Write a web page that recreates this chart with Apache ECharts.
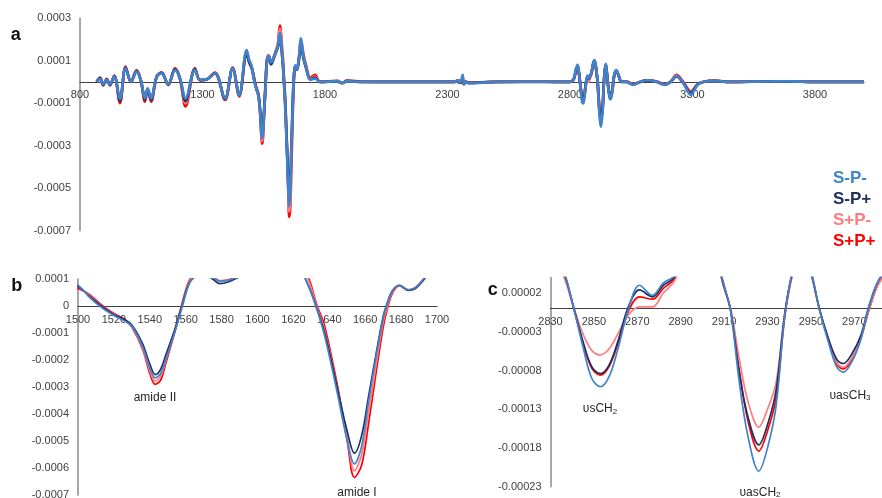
<!DOCTYPE html>
<html><head><meta charset="utf-8">
<script src="https://cdn.jsdelivr.net/npm/echarts@6/dist/echarts.min.js"></script>
<style>html,body{margin:0;padding:0;background:#fff}#c{width:882px;height:498px}</style>
</head><body><div id="c"></div>
<script>
// Wavenumbers (cm-1) shared by all series
const wavenumber = [
868,882,895,909,922,940,963,986,1008,1031,1049,1065,1076,1090,1113,1133,1160,1188,1208,1231,1269,1290,1317,1351,1392,1423,1450,1480,
1490,1500,1506,1513,1520,1526,1530,1536,1540,1543,1546,1549,1554,1558,1562,1566,1570,1575,1579,1584,1590,1600,1608,1616,1624,1629,1633,1637,1641,1645,1650,1654,1658,1662,1666,1670,1672,1675,1679,1684,1688,1693,1702,1712,1722,1740,1759,1780,
1850,1870,1890,1950,2100,2300,2330,2340,2348,2356,2362,2367,2373,2385,2500,2700,2790,
2800,2815,2824,2831,2836,2841,2845,2849,2853,2857,2861,2866,2871,2877,2882,2887,2895,2900,2906,2910,2913,2917,2921,2926,2930,2934,2938,2942,2946,2950,2954,2958,2962,2965,2969,2973,2977,2982,2989,3000,3010,
3030,3058,3085,3115,3150,3188,3210,3235,3262,3293,3320,3343,3390,3450,3600,3700,3800,3900,4000];

// Second-derivative values, in units of 1e-5
const S_Pminus = [
0,1.5,-1.0,1.0,-1.2,2.5,-8.0,6.4,0.2,4.9,0.5,-7.7,-3.0,-7.7,2.5,4.1,-1.1,5.6,1.7,-7.7,5.6,1.0,1.2,4.1,-7.7,6.4,-6.1,15.0,
10.5,7.7,3.5,-0.5,-3.5,-5.6,-7.5,-15,-23,-26.6,-25,-19.5,-9.5,-0.5,8.3,11.5,12.3,10.8,9.2,9.6,11.2,14.3,17,23,14,6.5,-1,-10,-21.5,-34,-50,-58.5,-52,-35,-19,-4.5,0.5,5.5,7.7,6.0,6.8,10.5,20.5,12,7.2,1.0,1.6,0,
0.4,-0.5,0.4,0,0.1,0,0,0.8,-0.3,0.8,3.3,-1.2,0.3,-0.6,0,0.1,0,
0,1.5,6,8.0,5.0,-0.3,-5.0,-9.0,-10.1,-8.8,-5.3,0,3.0,1.7,3.3,4.2,9,10.3,7,3.0,-0.3,-9.5,-16.5,-21.0,-18,-12.5,-0.8,5.5,8.5,5.0,-0.2,-4.3,-7.6,-8.2,-6.8,-4.0,0.5,4,5.6,2.5,0,
0,-1.4,0,0.8,0.2,-1.4,0,2.8,-0.5,-6.0,-1.5,0,0.5,0,0.2,0.3,0,0.1,0];
const S_Pplus = [
0,1.8,-1.5,1.2,-1.5,2.8,-9.0,6.8,0.0,5.2,0.3,-8.5,-3.2,-8.5,2.5,4.3,-1.2,6.0,1.6,-9.0,6.0,0.9,1.2,4.2,-8.0,6.5,-6.3,13.0,
9.5,7.2,3.8,0,-3.2,-5.0,-7.0,-14,-21.5,-25.4,-23.5,-18,-8.5,0.2,8.5,11.2,11.8,10,8.3,9.0,10.8,14,16.5,21,13.5,6.5,-0.8,-9,-20,-32,-46.5,-54.5,-48,-33,-18,-4,0.5,5.5,7.6,5.8,6.5,10,17,11,6.8,1.2,2.0,0,
0.3,-0.6,0.5,0,0,0,0,0.6,-0.4,0.5,1.5,-0.8,0.2,-0.4,0,0,0,
0,1.3,5.5,7.5,4.8,-0.2,-4.3,-7.5,-8.4,-7.3,-4.3,0.3,2.4,1.5,3.0,4.0,8.8,10,6.8,2.8,-0.2,-8.3,-14,-17.6,-15,-10.5,-0.6,5.3,8.3,4.8,-0.1,-3.8,-6.6,-7.1,-5.8,-3.5,0.5,4,5.4,2.4,0,
0,-1.2,0,0.7,0.2,-1.2,0,2.6,-0.4,-5.2,-1.3,0,0.5,0,0.2,0.2,0,0,0];
const Splus_Pminus = [
0,1.7,-1.2,1.2,-1.3,2.7,-9.0,6.8,0.1,5.2,0.4,-8.5,-3.2,-8.5,2.5,4.3,-1.3,6.0,1.6,-10.0,6.0,0.9,1.2,4.2,-8.0,6.6,-6.5,14.5,
10,7.0,4.2,0.2,-3.0,-5.2,-7.6,-15.5,-24,-27.8,-26,-20,-9,0.5,9,11.8,12.3,10.8,9.3,9.7,11.3,14.5,17.5,25,16,8.5,0,-8,-19.5,-32,-49,-61,-55,-39,-22,-6,-1,5,7.6,6.0,6.7,10.3,19.5,12.5,7.6,1.5,2.5,0,
0.4,-0.5,0.5,0,0.1,0,0.1,0.6,-0.2,0.7,1.0,-1.0,0.3,-0.4,0,0.1,0,
0,1.2,5,7,4.2,-0.1,-3.3,-5.4,-6.0,-5.2,-3.3,-0.8,0.2,0.2,2.0,3.5,8.5,9.8,6.5,2.6,0,-6.5,-12.0,-15.3,-13,-9.5,-0.5,5.0,8.0,4.6,-0.2,-3.9,-7.0,-7.6,-6.3,-3.8,0.1,3.6,5.2,2.6,0.1,
0.1,-1.1,0,0.8,0.2,-1.1,0,3.0,-0.2,-4.8,-1.3,0,0.5,0,0.2,0.2,0,0,0];
const Splus_Pplus = [
0,2.0,-1.5,1.5,-1.5,3.0,-10.0,7.2,0.0,5.6,0.5,-9.3,-3.5,-9.3,2.5,4.5,-1.5,6.4,1.5,-11.5,6.4,0.8,1.2,4.4,-8.5,6.8,-6.8,14.5,
9.5,6.5,4.5,0.5,-2.8,-5.0,-7.8,-16,-25,-29,-27.5,-21,-9.5,1.0,9.5,12,12.5,11,9.3,9.8,11.5,14.8,18,26.5,17,9.5,0.5,-6.5,-18,-31,-50,-63.5,-59,-43,-25,-8,-2,4.5,7.5,6.0,6.8,10.5,19,13,8,2.0,3.3,0,
0.5,-0.4,0.6,0.1,0,0.1,0,0.5,0.6,-0.5,0.8,-1.2,0.4,-0.3,0,0.1,0,
0,1.2,5,7,4.5,-0.3,-4.5,-7.7,-8.6,-7.5,-4.6,-0.3,1.5,1.2,2.6,3.8,8.5,9.8,6.5,2.8,-0.2,-8.0,-14.5,-18.4,-15.8,-11.5,-1.0,5.0,8.0,4.6,-0.2,-4.0,-7.2,-7.8,-6.5,-3.9,0.0,3.6,5.2,2.6,0.2,
0.2,-1.0,0,0.8,0.3,-1.0,0,3.3,0,-4.5,-1.2,0,0.6,0,0.2,0.3,0,0.1,0];

const seriesNames = ['S-P-','S-P+','S+P-','S+P+'];
const seriesValues = [S_Pminus, S_Pplus, Splus_Pminus, Splus_Pplus];

// Tick labels
const aXTicks = [800,1300,1800,2300,2800,3300,3800];
const aYTicks = [0.0003,0.0001,-0.0001,-0.0003,-0.0005,-0.0007];
const bXTicks = [1500,1520,1540,1560,1580,1600,1620,1640,1660,1680,1700];
const bYTicks = [0.0001,0,-0.0001,-0.0002,-0.0003,-0.0004,-0.0005,-0.0006,-0.0007];
const cXTicks = [2830,2850,2870,2890,2910,2930,2950,2970];
const cYTicks = [0.00002,-0.00003,-0.00008,-0.00013,-0.00018,-0.00023];

const colors = {'S-P-':'#3f83cc','S-P+':'#1f3060','S+P-':'#ff7c80','S+P+':'#ff0000'};
const drawOrder = ['S+P+','S+P-','S-P+','S-P-'];
const FONT = 'Liberation Sans, Arial, sans-serif';

const grids = [
  {left:80, top:18.2, width:784, height:212.5},
  {left:78, top:279, width:359, height:216},
  {left:550.5, top:277.5, width:332, height:209.2}
];
const yRanges = [[-0.0007,0.0003],[-0.0007,0.0001],[-0.00023,0.00004]];

function fmt(list, dec, tol){
  return function(v){
    const t = list.find(t => Math.abs(t - v) < tol);
    if (t === undefined) return '';
    if (dec === 0 || t === 0) return String(t);
    return t.toFixed(dec);
  };
}
function xAxisCfg(g, min, max, interval, ticks){
  // move whole x axis (line + labels) to the y = 0 position
  const [ymin, ymax] = yRanges[g];
  const offset = -grids[g].height * (0 - ymin) / (ymax - ymin);
  return {type:'value', gridIndex:g, min, max, interval, position:'bottom', offset,
    axisLine:{onZero:false, lineStyle:{color:'#404040', width:1.2}},
    axisTick:{show:false}, splitLine:{show:false},
    axisLabel:{color:'#404040', fontSize:11, fontFamily:FONT, margin:8, formatter: fmt(ticks,0,1e-6)}};
}
function yAxisCfg(g, interval, ticks, dec){
  const [min, max] = yRanges[g];
  return {type:'value', gridIndex:g, min, max, interval,
    axisLine:{show:true, onZero:false, lineStyle:{color:'#8a8a8a', width:1.5}},
    axisTick:{show:false}, splitLine:{show:false},
    axisLabel:{color:'#404040', fontSize:11, fontFamily:FONT, margin:9, formatter: fmt(ticks,dec,interval/1000)}};
}

const series = [];
[0,1,2].forEach(g => {
  drawOrder.forEach(name => {
    const vals = seriesValues[seriesNames.indexOf(name)];
    series.push({
      type:'line', name, xAxisIndex:g, yAxisIndex:g,
      data: wavenumber.map((x,i) => [x, vals[i]*1e-5]),
      smooth:0.35, showSymbol:false, symbol:'none', clip:true, silent:true,
      lineStyle:{color:colors[name], width: g===0 ? 2.7 : 1.7},
      itemStyle:{color:colors[name]}
    });
  });
});

const chart = echarts.init(document.getElementById('c'), null, {renderer:'canvas'});
chart.setOption({
  animation:false,
  backgroundColor:'#ffffff',
  textStyle:{fontFamily:FONT},
  grid: grids.map(g => Object.assign({outerBoundsMode:'none', containLabel:false}, g)),
  xAxis:[
    xAxisCfg(0, 800, 4000, 100, aXTicks),
    xAxisCfg(1, 1500, 1700, 20, bXTicks),
    xAxisCfg(2, 2830, 2983, 10, cXTicks)
  ],
  yAxis:[
    yAxisCfg(0, 0.0001, aYTicks, 4),
    yAxisCfg(1, 0.0001, bYTicks, 4),
    yAxisCfg(2, 0.00001, cYTicks, 5)
  ],
  legend:{
    orient:'vertical', left:828, top:170, padding:0, itemGap:4,
    icon:'rect', itemWidth:0, itemHeight:0, selectedMode:false,
    textStyle:{fontSize:17, fontWeight:'bold', fontFamily:FONT},
    data: seriesNames.map(n => ({name:n, textStyle:{color:colors[n]}}))
  },
  graphic:[
    {type:'text', x:15.7, y:35, style:{text:'a', font:'bold 18px '+FONT, fill:'#111', textAlign:'center', textVerticalAlign:'middle'}},
    {type:'text', x:16.7, y:285.7, style:{text:'b', font:'bold 18px '+FONT, fill:'#111', textAlign:'center', textVerticalAlign:'middle'}},
    {type:'text', x:492.7, y:290, style:{text:'c', font:'bold 18px '+FONT, fill:'#111', textAlign:'center', textVerticalAlign:'middle'}},
    {type:'text', x:155, y:397.7, style:{text:'amide II', font:'12px '+FONT, fill:'#262626', textAlign:'center', textVerticalAlign:'middle'}},
    {type:'text', x:357, y:492.3, style:{text:'amide I', font:'12px '+FONT, fill:'#262626', textAlign:'center', textVerticalAlign:'middle'}},
    {type:'text', x:600, y:409, style:{text:'{m|υsCH}{s|2}', fill:'#262626', textAlign:'center', textVerticalAlign:'middle',
       rich:{m:{fontSize:12, fontFamily:FONT, fill:'#262626'}, s:{fontSize:8, fontFamily:FONT, fill:'#262626', padding:[5,0,0,0]}}}},
    {type:'text', x:760, y:492.7, style:{text:'{m|υasCH}{s|2}', fill:'#262626', textAlign:'center', textVerticalAlign:'middle',
       rich:{m:{fontSize:12, fontFamily:FONT, fill:'#262626'}, s:{fontSize:8, fontFamily:FONT, fill:'#262626', padding:[5,0,0,0]}}}},
    {type:'text', x:850, y:395.3, style:{text:'{m|υasCH}{s|3}', fill:'#262626', textAlign:'center', textVerticalAlign:'middle',
       rich:{m:{fontSize:12, fontFamily:FONT, fill:'#262626'}, s:{fontSize:8, fontFamily:FONT, fill:'#262626', padding:[5,0,0,0]}}}}
  ],
  series
});
</script></body></html>
